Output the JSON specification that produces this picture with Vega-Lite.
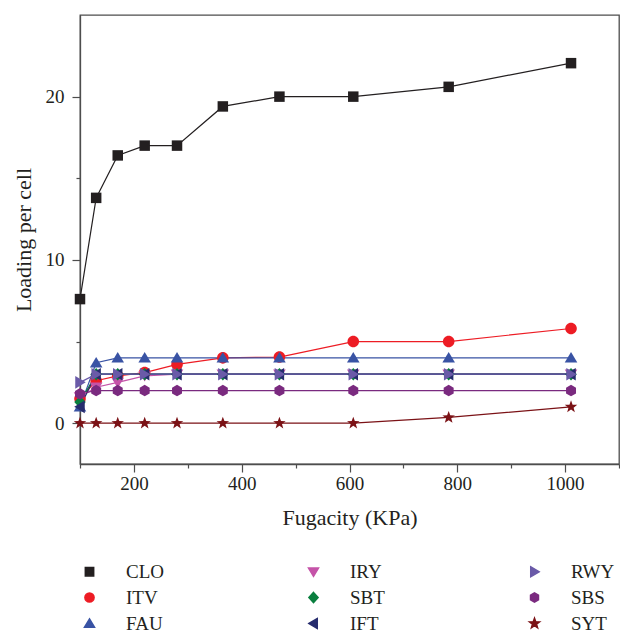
{
  "$schema": "https://vega.github.io/schema/vega-lite/v6.json",
  "width": 539,
  "height": 449,
  "autosize": "none",
  "padding": {"left": 80, "top": 15, "right": 1, "bottom": 169},
  "background": "white",
  "data": {"values": [
    {"s": "CLO", "f": 100, "v": 7.6}, {"s": "CLO", "f": 130, "v": 13.8}, {"s": "CLO", "f": 170, "v": 16.4}, {"s": "CLO", "f": 220, "v": 17.0}, {"s": "CLO", "f": 280, "v": 17.0}, {"s": "CLO", "f": 365, "v": 19.4}, {"s": "CLO", "f": 470, "v": 20.0}, {"s": "CLO", "f": 607, "v": 20.0}, {"s": "CLO", "f": 784, "v": 20.6}, {"s": "CLO", "f": 1011, "v": 22.05},
    {"s": "ITV", "f": 100, "v": 1.5}, {"s": "ITV", "f": 130, "v": 2.6}, {"s": "ITV", "f": 170, "v": 2.9}, {"s": "ITV", "f": 220, "v": 3.1}, {"s": "ITV", "f": 280, "v": 3.6}, {"s": "ITV", "f": 365, "v": 4.0}, {"s": "ITV", "f": 470, "v": 4.05}, {"s": "ITV", "f": 607, "v": 5.0}, {"s": "ITV", "f": 784, "v": 5.0}, {"s": "ITV", "f": 1011, "v": 5.8},
    {"s": "FAU", "f": 100, "v": 1.0}, {"s": "FAU", "f": 130, "v": 3.7}, {"s": "FAU", "f": 170, "v": 4.0}, {"s": "FAU", "f": 220, "v": 4.0}, {"s": "FAU", "f": 280, "v": 4.0}, {"s": "FAU", "f": 365, "v": 4.0}, {"s": "FAU", "f": 470, "v": 4.0}, {"s": "FAU", "f": 607, "v": 4.0}, {"s": "FAU", "f": 784, "v": 4.0}, {"s": "FAU", "f": 1011, "v": 4.0},
    {"s": "IRY", "f": 100, "v": 1.6}, {"s": "IRY", "f": 130, "v": 2.2}, {"s": "IRY", "f": 170, "v": 2.5}, {"s": "IRY", "f": 220, "v": 2.9}, {"s": "IRY", "f": 280, "v": 3.0}, {"s": "IRY", "f": 365, "v": 3.0}, {"s": "IRY", "f": 470, "v": 3.0}, {"s": "IRY", "f": 607, "v": 3.0}, {"s": "IRY", "f": 784, "v": 3.0}, {"s": "IRY", "f": 1011, "v": 3.0},
    {"s": "SBT", "f": 100, "v": 1.3}, {"s": "SBT", "f": 130, "v": 3.0}, {"s": "SBT", "f": 170, "v": 3.0}, {"s": "SBT", "f": 220, "v": 3.0}, {"s": "SBT", "f": 280, "v": 3.0}, {"s": "SBT", "f": 365, "v": 3.0}, {"s": "SBT", "f": 470, "v": 3.0}, {"s": "SBT", "f": 607, "v": 3.0}, {"s": "SBT", "f": 784, "v": 3.0}, {"s": "SBT", "f": 1011, "v": 3.0},
    {"s": "IFT", "f": 100, "v": 1.0}, {"s": "IFT", "f": 130, "v": 3.0}, {"s": "IFT", "f": 170, "v": 3.0}, {"s": "IFT", "f": 220, "v": 3.0}, {"s": "IFT", "f": 280, "v": 3.0}, {"s": "IFT", "f": 365, "v": 3.0}, {"s": "IFT", "f": 470, "v": 3.0}, {"s": "IFT", "f": 607, "v": 3.0}, {"s": "IFT", "f": 784, "v": 3.0}, {"s": "IFT", "f": 1011, "v": 3.0},
    {"s": "RWY", "f": 100, "v": 2.5}, {"s": "RWY", "f": 130, "v": 3.0}, {"s": "RWY", "f": 170, "v": 3.0}, {"s": "RWY", "f": 220, "v": 3.0}, {"s": "RWY", "f": 280, "v": 3.0}, {"s": "RWY", "f": 365, "v": 3.0}, {"s": "RWY", "f": 470, "v": 3.0}, {"s": "RWY", "f": 607, "v": 3.0}, {"s": "RWY", "f": 784, "v": 3.0}, {"s": "RWY", "f": 1011, "v": 3.0},
    {"s": "SBS", "f": 100, "v": 1.8}, {"s": "SBS", "f": 130, "v": 2.0}, {"s": "SBS", "f": 170, "v": 2.0}, {"s": "SBS", "f": 220, "v": 2.0}, {"s": "SBS", "f": 280, "v": 2.0}, {"s": "SBS", "f": 365, "v": 2.0}, {"s": "SBS", "f": 470, "v": 2.0}, {"s": "SBS", "f": 607, "v": 2.0}, {"s": "SBS", "f": 784, "v": 2.0}, {"s": "SBS", "f": 1011, "v": 2.0},
    {"s": "SYT", "f": 100, "v": 0.0}, {"s": "SYT", "f": 130, "v": 0.0}, {"s": "SYT", "f": 170, "v": 0.0}, {"s": "SYT", "f": 220, "v": 0.0}, {"s": "SYT", "f": 280, "v": 0.0}, {"s": "SYT", "f": 365, "v": 0.0}, {"s": "SYT", "f": 470, "v": 0.0}, {"s": "SYT", "f": 607, "v": 0.0}, {"s": "SYT", "f": 784, "v": 0.35}, {"s": "SYT", "f": 1011, "v": 1.0}
  ]},
  "encoding": {
    "x": {
      "field": "f", "type": "quantitative", "title": "Fugacity (KPa)",
      "scale": {"domain": [100, 1100], "nice": false, "zero": false},
      "axis": {
        "values": [100, 200, 300, 400, 500, 600, 700, 800, 900, 1000, 1100],
        "format": "d",
        "labelExpr": "datum.value % 200 === 0 ? datum.label : ''",
        "tickSize": {"condition": {"test": "datum.value % 200 === 0", "value": 8}, "value": 4},
        "labelPadding": 2,
        "titlePadding": 14,
        "grid": false
      }
    },
    "y": {
      "field": "v", "type": "quantitative", "title": "Loading per cell",
      "scale": {"domain": [-2.5, 25], "nice": false, "zero": false},
      "axis": {
        "values": [0, 5, 10, 15, 20],
        "format": "d",
        "labelExpr": "datum.value % 10 === 0 ? datum.label : ''",
        "tickSize": {"condition": {"test": "datum.value % 10 === 0", "value": 8}, "value": 4},
        "labelPadding": 8,
        "titlePadding": 10,
        "grid": false
      }
    },
    "color": {
      "field": "s", "type": "nominal",
      "scale": {
        "domain": ["CLO", "IRY", "RWY", "ITV", "SBT", "SBS", "FAU", "IFT", "SYT"],
        "range": ["#231f20", "#c553a8", "#6a5aa8", "#ed1c24", "#0a7f3f", "#7a2a7f", "#3953a4", "#262c6e", "#7b1216"]
      },
      "legend": {
        "title": null, "orient": "bottom", "direction": "horizontal", "columns": 3,
        "columnPadding": 140, "rowPadding": 6, "offset": 34,
        "labelFont": "serif", "labelFontSize": 19, "labelColor": "#231f20",
        "symbolSize": 70, "labelOffset": 27, "symbolOpacity": 1
      }
    }
  },
  "layer": [
    {"mark": {"type": "line", "strokeWidth": 1.2}},
    {
      "mark": {"type": "point", "filled": true, "opacity": 1, "size": 110},
      "encoding": {
        "shape": {
          "field": "s", "type": "nominal",
          "scale": {
            "domain": ["CLO", "IRY", "RWY", "ITV", "SBT", "SBS", "FAU", "IFT", "SYT"],
            "range": [
              "M-1,-1H1V1H-1Z",
              "M-1.2,-0.9L1.2,-0.9L0,1.1Z",
              "M1.1,0L-0.9,1.2L-0.9,-1.2Z",
              "M-1.1,0A1.1,1.1 0 1,1 1.1,0A1.1,1.1 0 1,1 -1.1,0Z",
              "M0,-1.2L1.1,0L0,1.2L-1.1,0Z",
              "M0,-1.1L0.95,-0.55L0.95,0.55L0,1.1L-0.95,0.55L-0.95,-0.55Z",
              "M0,-1.1L1.2,0.9L-1.2,0.9Z",
              "M-1.1,0L0.9,-1.2L0.9,1.2Z",
              "M0,-1.25L0.3,-0.41L1.19,-0.39L0.49,0.16L0.73,1.01L0,0.51L-0.73,1.01L-0.49,0.16L-1.19,-0.39L-0.3,-0.41Z"
            ]
          },
          "legend": {
            "title": null, "orient": "bottom", "direction": "horizontal", "columns": 3,
            "columnPadding": 140, "rowPadding": 6, "offset": 34,
            "labelFont": "serif", "labelFontSize": 19, "labelColor": "#231f20",
            "symbolSize": 70, "labelOffset": 27, "symbolOpacity": 1
          }
        }
      }
    }
  ],
  "config": {
    "view": {"stroke": "#4d4d4d", "strokeWidth": 1.3},
    "axis": {
      "domainColor": "#4d4d4d", "domainWidth": 1.3, "tickColor": "#4d4d4d", "tickWidth": 1.2,
      "labelFont": "serif", "labelFontSize": 19, "labelColor": "#231f20",
      "titleFont": "serif", "titleFontSize": 22, "titleFontWeight": "normal", "titleColor": "#231f20"
    }
  }
}
